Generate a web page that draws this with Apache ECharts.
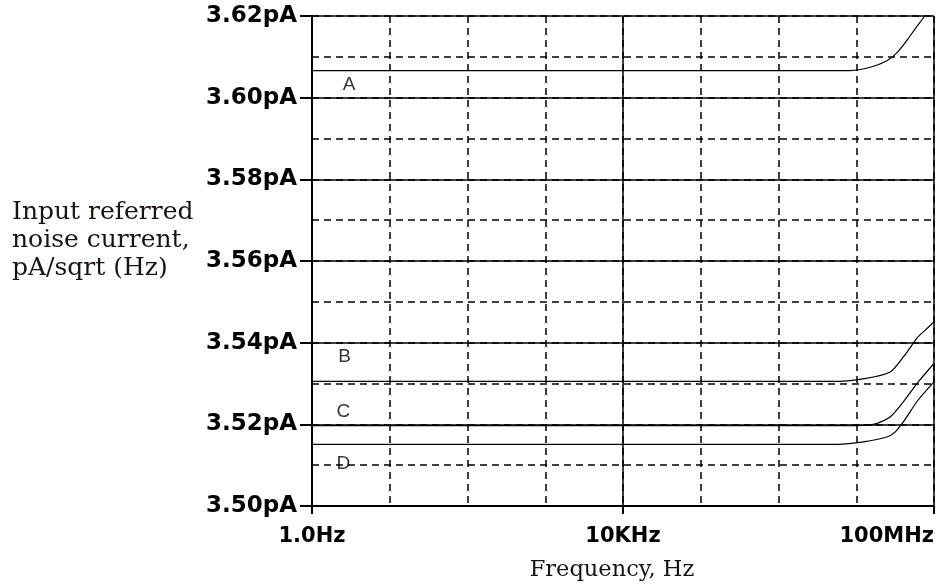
<!DOCTYPE html>
<html>
<head>
<meta charset="utf-8">
<script src="https://cdn.jsdelivr.net/npm/echarts@6/dist/echarts.min.js"></script>
<style>
  html, body { margin: 0; padding: 0; background: #fff; }
  #chart { width: 938px; height: 586px; }
</style>
</head>
<body>
<div id="chart"></div>
<script>
// Input referred noise current (pA/sqrt(Hz)) versus frequency (Hz), four cases A-D
const freqA  = [1, 8.3e6, 1.35e7, 2.45e7, 3.3e7, 4.5e7, 6.0e7, 7.6e7, 1e8];
const noiseA = [3.6066, 3.6066, 3.6072, 3.6090, 3.6109, 3.6141, 3.6174, 3.6200, 3.6235];

const freqB  = [1, 4.83e6, 1.29e7, 2.72e7, 4.03e7, 6.22e7, 7.66e7, 1e8];
const noiseB = [3.5305, 3.5305, 3.5312, 3.5328, 3.5365, 3.5414, 3.5430, 3.5451];

const freqC  = [1, 7.53e6, 1.66e7, 2.72e7, 4.03e7, 6.28e7, 1e8];
const noiseC = [3.5197, 3.5197, 3.5200, 3.5218, 3.5255, 3.5304, 3.5349];

const freqD  = [1, 5.87e6, 1.23e7, 2.47e7, 3.15e7, 4.03e7, 6.22e7, 1e8];
const noiseD = [3.5151, 3.5151, 3.5157, 3.5169, 3.5181, 3.5206, 3.5259, 3.5304];

// Curve tags written near the left edge
const curveNames = ['A', 'B', 'C', 'D'];
const tagFreq    = [3.0, 2.62, 2.54, 2.54];
const tagNoise   = [3.6031, 3.5365, 3.5232, 3.5104];

// Axis ranges and labelled ticks
const freqMin = 1, freqMax = 1e8;
const freqTicks = [1, 1e4, 1e8];
const freqTickText = ['1.0Hz', '10KHz', '100MHz'];
const noiseMin = 3.50, noiseMax = 3.62;
const noiseMajorStep = 0.02, noiseMinorStep = 0.01;

const INK = '#000';
const tickFont = { fontFamily: 'DejaVu Sans', fontWeight: 'bold', color: INK };

function pairs(xs, ys) { return xs.map((x, i) => [x, ys[i]]); }

function curve(name, xs, ys) {
  return {
    name: name,
    type: 'line',
    xAxisIndex: 1,
    yAxisIndex: 1,
    data: pairs(xs, ys),
    symbol: 'none',
    smooth: 0.25,
    clip: true,
    lineStyle: { color: INK, width: 1.2 },
    z: 5
  };
}

const chart = echarts.init(document.getElementById('chart'), null, { renderer: 'canvas' });

chart.setOption({
  animation: false,
  backgroundColor: '#fff',
  grid: { left: 312, right: 4, top: 16, bottom: 80, outerBoundsMode: 'none' },
  xAxis: [
    {
      // dashed decade grid
      type: 'log', logBase: 10, min: freqMin, max: freqMax, splitNumber: 8,
      position: 'bottom',
      axisLine: { show: false }, axisTick: { show: false }, axisLabel: { show: false },
      splitLine: { show: true, lineStyle: { color: INK, width: 1.5, type: [7, 5] } }
    },
    {
      // labelled decades with solid grid lines
      type: 'log', logBase: 10, min: freqMin, max: freqMax,
      position: 'bottom',
      axisLine: { show: true, onZero: false, lineStyle: { color: INK, width: 2 } },
      axisTick: { show: true, customValues: freqTicks, length: 8, lineStyle: { color: INK, width: 2 } },
      axisLabel: {
        show: true, customValues: freqTicks, margin: 20, fontSize: 21, ...tickFont,
        alignMaxLabel: 'right',
        formatter: v => {
          const i = freqTicks.findIndex(t => Math.abs(Math.log10(t) - Math.log10(v)) < 1e-6);
          return i >= 0 ? freqTickText[i] : '';
        }
      },
      splitLine: { show: true, lineStyle: { color: INK, width: 1.5, type: 'solid' } }
    }
  ],
  yAxis: [
    {
      // dashed grid every 0.01 pA
      type: 'value', min: noiseMin, max: noiseMax, interval: noiseMinorStep,
      position: 'left',
      axisLine: { show: false }, axisTick: { show: false }, axisLabel: { show: false },
      splitLine: { show: true, lineStyle: { color: INK, width: 1.5, type: [7, 5] } }
    },
    {
      // labelled grid every 0.02 pA
      type: 'value', min: noiseMin, max: noiseMax, interval: noiseMajorStep,
      position: 'left',
      axisLine: { show: true, onZero: false, lineStyle: { color: INK, width: 2 } },
      axisTick: { show: true, length: 12, lineStyle: { color: INK, width: 2 } },
      axisLabel: {
        show: true, margin: 15, fontSize: 23, ...tickFont,
        formatter: v => v.toFixed(2) + 'pA'
      },
      splitLine: { show: true, lineStyle: { color: INK, width: 1.5, type: 'solid' } }
    }
  ],
  series: [
    curve('A', freqA, noiseA),
    curve('B', freqB, noiseB),
    curve('C', freqC, noiseC),
    curve('D', freqD, noiseD),
    {
      name: 'tags',
      type: 'scatter',
      xAxisIndex: 1,
      yAxisIndex: 1,
      data: pairs(tagFreq, tagNoise),
      symbolSize: 1,
      itemStyle: { color: 'rgba(0,0,0,0)' },
      label: {
        show: true, position: 'inside',
        formatter: p => curveNames[p.dataIndex],
        fontFamily: 'Liberation Sans', fontSize: 19, color: INK
      },
      z: 6
    }
  ],
  graphic: [
    {
      type: 'text', left: 12, top: 198,
      style: {
        text: 'Input referred\nnoise current,\npA/sqrt (Hz)',
        fontFamily: 'DejaVu Serif', fontSize: 25, lineHeight: 28,
        fill: '#1a1410'
      }
    },
    {
      type: 'text', x: 612, y: 570,
      style: {
        text: 'Frequency, Hz',
        fontFamily: 'DejaVu Serif', fontSize: 22.5,
        fill: '#1a1410', align: 'center', verticalAlign: 'middle'
      }
    }
  ]
});
</script>
</body>
</html>
